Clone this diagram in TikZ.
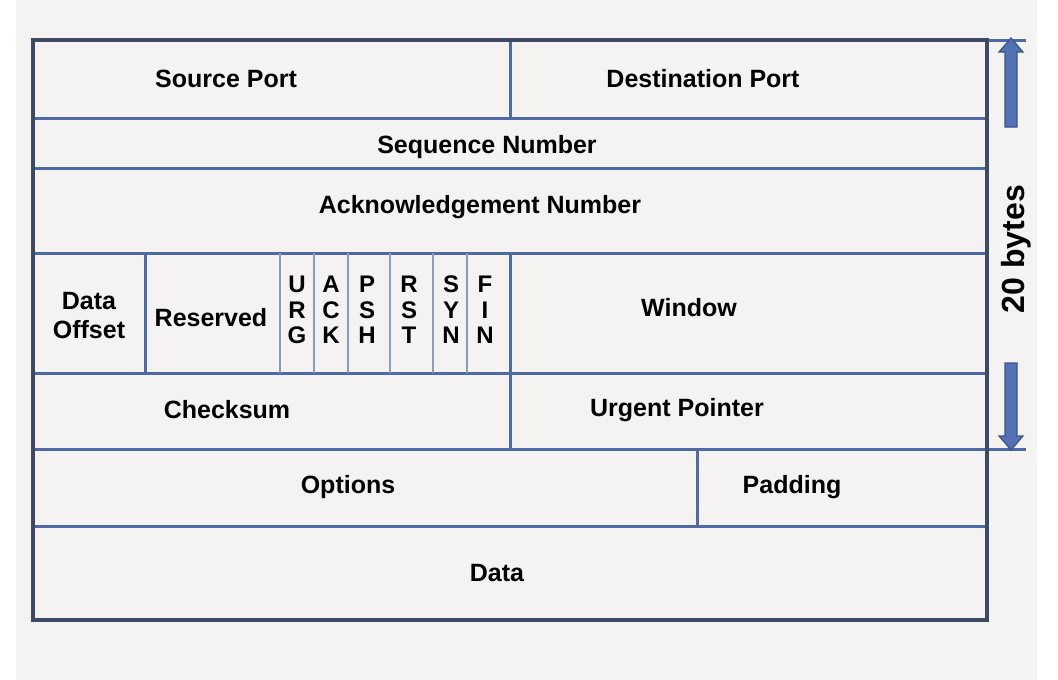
\documentclass[tikz,border=0pt]{standalone}
\usepackage{fontspec}
\setmainfont{Liberation Sans}
\definecolor{panel}{HTML}{F4F3F1}
\definecolor{frame}{HTML}{3E4966}
\definecolor{rule}{HTML}{4D69A6}
\definecolor{flagrule}{HTML}{8A9CC0}
\definecolor{arrowfill}{HTML}{5272B3}
\definecolor{arrowdraw}{HTML}{3B5390}
\tikzset{field/.style={font=\bfseries\fontsize{25}{29}\selectfont,inner sep=0pt},
 flag/.style={font=\bfseries\fontsize{24}{25.5}\selectfont,align=center,inner sep=0pt},
 inner/.style={draw=rule,line width=3pt},
 thin/.style={draw=flagrule,line width=1.6pt},
 outer/.style={draw=frame,line width=3.4pt},
 bigarrow/.style={fill=arrowfill,draw=arrowdraw,line width=1.2pt,line join=miter},
 }

\begin{document}
\begin{tikzpicture}[x=1pt,y=-1pt]
        \useasboundingbox (0,0) rectangle (1058,680);
        \fill[white] (0,0) rectangle (1058,680);
        \fill[panel] (16,0) rectangle (1037,680);
        % rows
        \draw[inner] (33,118) -- (987,118);
        \draw[inner] (33,168) -- (987,168);
        \draw[inner] (33,253) -- (987,253);
        \draw[inner] (33,373) -- (987,373);
        \draw[inner] (33,449) -- (1026,449);
        \draw[inner] (33,526) -- (987,526);
        \draw[inner] (987,40) -- (1026,40);
        % columns
        \draw[inner] (510,40) -- (510,118);
        \draw[inner] (145,253) -- (145,373);
        \draw[inner] (510,253) -- (510,449);
        \draw[inner] (697,449) -- (697,526);
        \foreach \x in {280,314,348,390,433,467}
            \draw[thin] (\x,253) -- (\x,373);
        \draw[outer] (33,40) rectangle (987,620);
        % labels
        \node[field] (srcport) at (226,79) {Source Port};
        \node[field] (dstport) at (703,79) {Destination Port};
        \node[field] (seqnum) at (487,147) {Sequence Number};
        \node[field] (acknum) at (480,207) {Acknowledgement Number};
        \node[field,align=center] (offset) at (89,316) {Data\\Offset};
        \node[field] (reserved) at (211,318) {Reserved};
        \node[flag] (urg) at (297,310) {U\\R\\G};
        \node[flag] (ack) at (331,310) {A\\C\\K};
        \node[flag] (psh) at (367,310) {P\\S\\H};
        \node[flag] (rst) at (409,310) {R\\S\\T};
        \node[flag] (syn) at (451,310) {S\\Y\\N};
        \node[flag] (fin) at (485,310) {F\\I\\N};
        \node[field] (window) at (689,308) {Window};
        \node[field] (checksum) at (227,410) {Checksum};
        \node[field] (urgptr) at (677,410) {Urgent Pointer};
        \node[field] (options) at (348,487) {Options};
        \node[field] (padding) at (792,487) {Padding};
        \node[field] (data) at (497,573) {Data};
        \node[rotate=90,font=\bfseries\fontsize{32}{36}\selectfont,inner sep=0pt] (size) at (1016,249) {20 bytes};
        % size arrows
        \draw[bigarrow] (1005,127) -- (1005,52) -- (999,52) -- (1011,38)
            -- (1023,52) -- (1017,52) -- (1017,127) -- cycle;
        \draw[bigarrow] (1005,363) -- (1005,436) -- (999,436) -- (1011,450)
            -- (1023,436) -- (1017,436) -- (1017,363) -- cycle;
    \end{tikzpicture}
\end{document}
